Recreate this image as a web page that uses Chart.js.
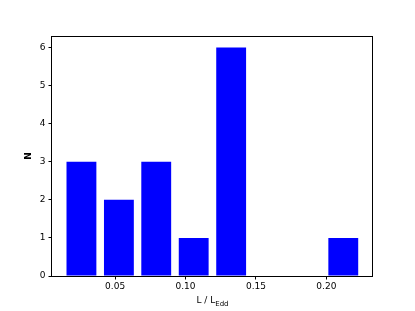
<!DOCTYPE html>
<html>
<head>
<meta charset="utf-8">
<script src="https://cdn.jsdelivr.net/npm/chart.js@4/dist/chart.umd.min.js"></script>
<style>
html,body{margin:0;padding:0;background:#fff;}
#wrap{width:415px;height:311px;}
</style>
</head>
<body>
<div id="wrap"><canvas id="c" width="415" height="311"></canvas></div>
<script>
// Histogram bin centres (L / L_Edd) and counts
const binCenters = [0.0261, 0.0527, 0.0792, 0.1058, 0.1324, 0.1589, 0.1855, 0.2120];
const counts = [3, 2, 3, 1, 6, 0, 0, 1];
const xTicks = [0.05, 0.10, 0.15, 0.20];
const yTicks = [0, 1, 2, 3, 4, 5, 6];
const xLabel = "L / L";
const xLabelSub = "Edd";
const yLabel = "N";

const FONT = "'DejaVu Sans', sans-serif";

const framePlugin = {
  id: 'frame',
  afterDraw(chart) {
    const ctx = chart.ctx, a = chart.chartArea;
    ctx.save();
    ctx.strokeStyle = '#000';
    ctx.lineWidth = 1;
    ctx.strokeRect(Math.round(a.left) - 0.5, Math.round(a.top) + 0.5,
                   Math.round(a.right - a.left), Math.round(a.bottom - a.top));
    // x axis title with subscript
    ctx.fillStyle = '#000';
    ctx.textBaseline = 'alphabetic';
    ctx.font = "9px " + FONT;
    const w1 = ctx.measureText(xLabel).width;
    ctx.font = "7px " + FONT;
    const w2 = ctx.measureText(xLabelSub).width;
    const cx = (a.left + a.right) / 2;
    let x0 = cx - (w1 + w2) / 2;
    ctx.font = "9px " + FONT;
    ctx.textAlign = 'left';
    ctx.fillText(xLabel, x0, 303);
    ctx.font = "7px " + FONT;
    ctx.fillText(xLabelSub, x0 + w1, 305.5);
    // y axis title
    ctx.translate(28.5, (a.top + a.bottom) / 2);
    ctx.rotate(-Math.PI / 2);
    ctx.font = "bold 9px " + FONT;
    ctx.textAlign = 'center';
    ctx.textBaseline = 'middle';
    ctx.fillText(yLabel, 0, 0);
    ctx.restore();
  }
};

new Chart(document.getElementById('c'), {
  type: 'bar',
  data: {
    datasets: [{
      data: binCenters.map((x, i) => ({x: x, y: counts[i] === 0 ? null : counts[i]})),
      backgroundColor: '#0000ff',
      borderWidth: 0,
      barPercentage: 0.8,
      categoryPercentage: 1.0
    }]
  },
  options: {
    responsive: false,
    animation: false,
    devicePixelRatio: 1,
    layout: {padding: {left: 0, right: 42, top: 36, bottom: 0}},
    plugins: {legend: {display: false}, tooltip: {enabled: false}},
    scales: {
      x: {
        type: 'linear',
        min: 0.0052,
        max: 0.2331,
        offset: false,
        afterBuildTicks(s) { s.ticks = xTicks.map(v => ({value: v})); },
        afterFit(s) { s.height = 35; },
        grid: {display: true, offset: false, drawOnChartArea: false, drawTicks: true, tickLength: 3.5, color: '#000'},
        border: {display: false},
        ticks: {
          color: '#000', font: {family: FONT, size: 9}, padding: 2,
          maxRotation: 0, autoSkip: false,
          callback: v => Number(v).toFixed(2)
        }
      },
      y: {
        min: 0,
        max: 6.3,
        afterBuildTicks(s) { s.ticks = yTicks.map(v => ({value: v})); },
        afterFit(s) { s.width = 52; },
        grid: {display: true, offset: false, drawOnChartArea: false, drawTicks: true, tickLength: 3.5, color: '#000'},
        border: {display: false},
        ticks: {
          color: '#000', font: {family: FONT, size: 9}, padding: 3,
          callback: v => String(v)
        }
      }
    }
  },
  plugins: [framePlugin]
});
</script>
</body>
</html>
